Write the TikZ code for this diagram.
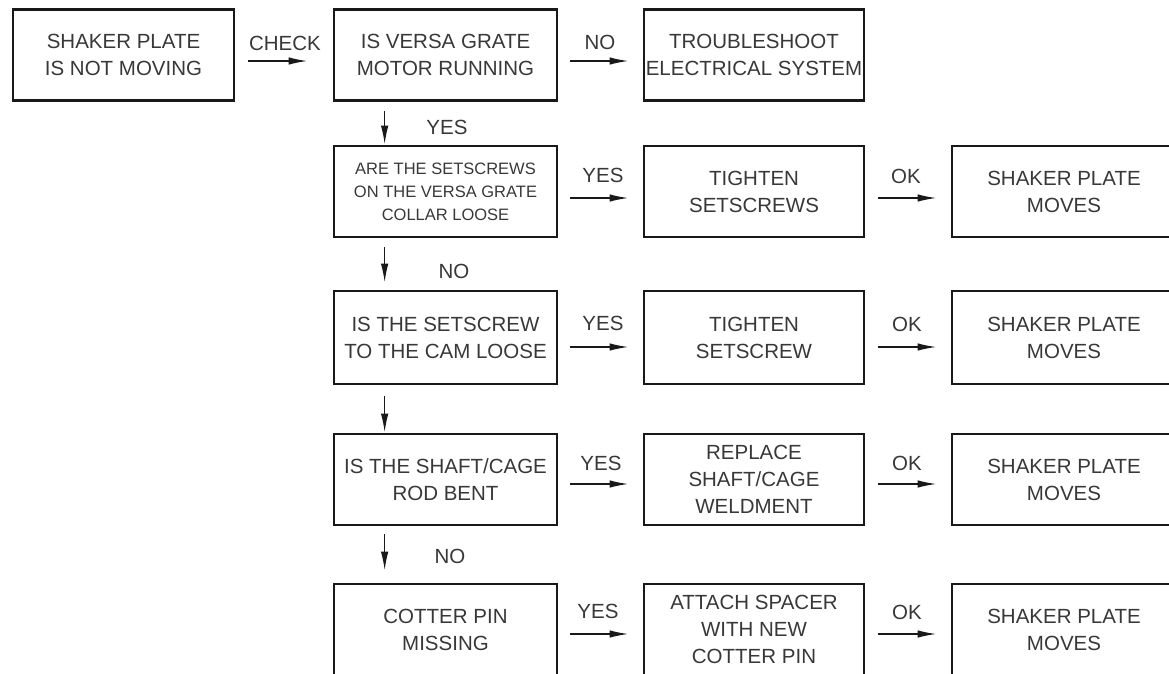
\documentclass[tikz,border=0pt]{standalone}
\usepackage{fontspec}
\setmainfont{Liberation Sans}
\usetikzlibrary{arrows.meta}
\tikzset{
  box/.style={draw=black!90, line width=2.7pt, minimum height=91pt, align=center,
    text=black!78, font=\fontsize{20.5}{27}\selectfont, inner sep=0pt},
  boxA/.style={box, minimum width=221pt},
  boxB/.style={box, minimum width=223pt},
  boxC/.style={box, minimum width=220pt},
  boxD/.style={box, minimum width=224pt},
  arr/.style={line width=1.6pt, black!90, -{Latex[length=19pt,width=7.5pt]}},
  lbl/.style={text=black!78, font=\fontsize{20.5}{24}\selectfont, inner sep=0pt}
}
\begin{document}
\begin{tikzpicture}[x=1pt,y=-1pt]
\useasboundingbox (0,0) rectangle (1169,673);
\clip (0,0) rectangle (1169,673);
% row 1
\node[boxA] (start) at (123.5,55) {SHAKER PLATE\\IS NOT MOVING};
\node[boxB] (q1) at (445.5,55) {IS VERSA GRATE\\MOTOR RUNNING};
\node[boxC] (e1) at (754,55) {TROUBLESHOOT\\ELECTRICAL SYSTEM};
% row 2
\node[boxB, font=\fontsize{16.5}{23}\selectfont] (q2) at (445.5,191.5) {ARE THE SETSCREWS\\ON THE VERSA GRATE\\COLLAR LOOSE};
\node[boxC] (a2) at (754,191.5) {TIGHTEN\\SETSCREWS};
\node[boxD] (r2) at (1064,191.5) {SHAKER PLATE\\MOVES};
% row 3
\node[boxB, minimum height=93pt] (q3) at (445.5,337.5) {IS THE SETSCREW\\TO THE CAM LOOSE};
\node[boxC, minimum height=93pt] (a3) at (754,337.5) {TIGHTEN\\SETSCREW};
\node[boxD, minimum height=93pt] (r3) at (1064,337.5) {SHAKER PLATE\\MOVES};
% row 4
\node[boxB] (q4) at (445.5,479.5) {IS THE SHAFT/CAGE\\ROD BENT};
\node[boxC] (a4) at (754,479.5) {REPLACE\\SHAFT/CAGE\\WELDMENT};
\node[boxD] (r4) at (1064,479.5) {SHAKER PLATE\\MOVES};
% row 5
\node[boxB] (q5) at (445.5,629.5) {COTTER PIN\\MISSING};
\node[boxC] (a5) at (754,629.5) {ATTACH SPACER\\WITH NEW\\COTTER PIN};
\node[boxD] (r5) at (1064,629.5) {SHAKER PLATE\\MOVES};
% horizontal arrows
\draw[arr] ([xshift=13pt,yshift=-6pt]start.east) -- ([xshift=-25pt,yshift=-6pt]q1.west);
\draw[arr] ([xshift=12pt,yshift=-6pt]q1.east) -- ([xshift=-14pt,yshift=-6pt]e1.west);
\draw[arr] ([xshift=12pt,yshift=-6.5pt]q2.east) -- ([xshift=-14pt,yshift=-6.5pt]a2.west);
\draw[arr] ([xshift=13pt,yshift=-6.5pt]a2.east) -- ([xshift=-14pt,yshift=-6.5pt]r2.west);
\draw[arr] ([xshift=12pt,yshift=-9.5pt]q3.east) -- ([xshift=-14pt,yshift=-9.5pt]a3.west);
\draw[arr] ([xshift=13pt,yshift=-9.5pt]a3.east) -- ([xshift=-14pt,yshift=-9.5pt]r3.west);
\draw[arr] ([xshift=12pt,yshift=-4.5pt]q4.east) -- ([xshift=-14pt,yshift=-4.5pt]a4.west);
\draw[arr] ([xshift=13pt,yshift=-4.5pt]a4.east) -- ([xshift=-14pt,yshift=-4.5pt]r4.west);
\draw[arr] ([xshift=12pt,yshift=-4.5pt]q5.east) -- ([xshift=-14pt,yshift=-4.5pt]a5.west);
\draw[arr] ([xshift=13pt,yshift=-4.5pt]a5.east) -- ([xshift=-14pt,yshift=-4.5pt]r5.west);
% vertical arrows
\draw[arr] ([xshift=52pt,yshift=-9pt]q1.south west) -- ([xshift=52pt]q2.north west);
\draw[arr] ([xshift=52pt,yshift=-9pt]q2.south west) -- ([xshift=52pt,yshift=7pt]q3.north west);
\draw[arr] ([xshift=52pt,yshift=-11pt]q3.south west) -- ([xshift=52pt]q4.north west);
\draw[arr] ([xshift=52pt,yshift=-8pt]q4.south west) -- ([xshift=52pt,yshift=12pt]q5.north west);
% labels
\node[lbl] (lcheck) at (285,43) {CHECK};
\node[lbl] (lno1) at (600,42) {NO};
\node[lbl] (lyes1) at (447,127) {YES};
\node[lbl] (lno2) at (454,271) {NO};
\node[lbl] (lno3) at (450,556) {NO};
\node[lbl] (lyes2) at (603,175) {YES};
\node[lbl] (lyes3) at (603,323) {YES};
\node[lbl] (lyes4) at (601,463) {YES};
\node[lbl] (lyes5) at (598,611) {YES};
\node[lbl] (lok2) at (906,176) {OK};
\node[lbl] (lok3) at (907,324) {OK};
\node[lbl] (lok4) at (907,463) {OK};
\node[lbl] (lok5) at (907,612) {OK};
\end{tikzpicture}
\end{document}
